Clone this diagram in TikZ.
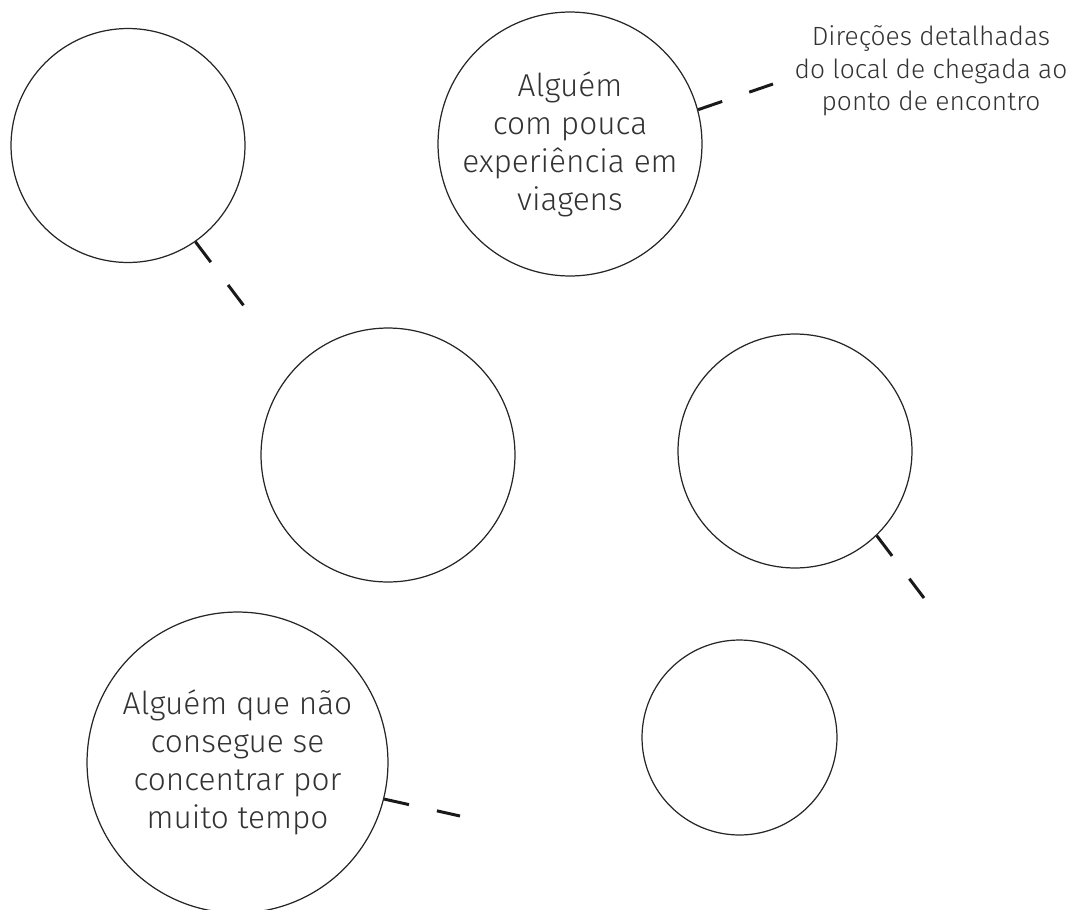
\documentclass[tikz,border=0pt]{standalone}
\usepackage{fontspec}
\setmainfont{Fira Sans Light}
\usepackage{tikz}

\begin{document}
\begin{tikzpicture}[x=0.02cm, y=-0.02cm,
  bubble/.style={circle, draw=black!85, line width=0.7pt, inner sep=0pt, align=center,
    text=black!80, font=\fontsize{18}{21.6}\selectfont},
  tick/.style={black!90, line width=1.7pt, dash pattern=on 14.5pt off 16.3pt}]
\clip (0,0) rectangle (1073,910);
\node[bubble, minimum size=4.68cm] (blank1) at (128,145.5) {};
\node[bubble, minimum size=5.28cm] (travel) at (570,144) {Alguém\\com pouca\\experiência em\\viagens};
\node[bubble, minimum size=5.08cm] (blank2) at (388,455) {};
\node[bubble, minimum size=4.68cm] (blank3) at (795,451) {};
\node[bubble, minimum size=6.02cm] (focus) at (237.5,762.5) {Alguém que não\\consegue se\\concentrar por\\muito tempo};
\node[bubble, minimum size=3.9cm] (blank4) at (739.5,737.5) {};
\node[text=black!80, align=center, font=\fontsize{15}{18.4}\selectfont] (dirs) at (931,71)
  {Direções detalhadas\\do local de chegada ao\\ponto de encontro};

\coordinate (end1) at (244,306);
\coordinate (end2) at (773,84);
\coordinate (end3) at (924,598);
\coordinate (end4) at (460,816);
\draw[tick] (blank1.-55) -- (end1);
\draw[tick] (travel.15) -- (end2);
\draw[tick] (blank3.-46) -- (end3);
\draw[tick] (focus.-14) -- (end4);
\end{tikzpicture}
\end{document}
